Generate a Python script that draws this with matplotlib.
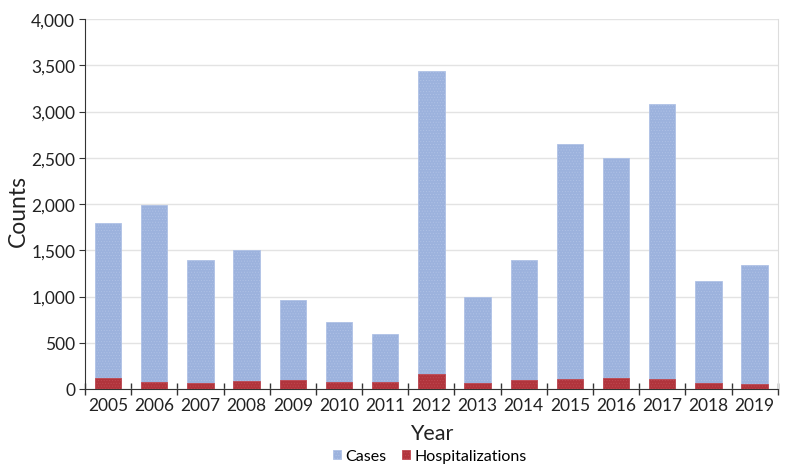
import numpy as np
import matplotlib.pyplot as plt
from matplotlib.ticker import FuncFormatter, FixedLocator

plt.rcParams['font.family'] = ['Lato', 'DejaVu Sans']
plt.rcParams['hatch.linewidth'] = 0.4

years = ["2005", "2006", "2007", "2008", "2009", "2010", "2011", "2012",
         "2013", "2014", "2015", "2016", "2017", "2018", "2019"]
cases = [1790, 1990, 1400, 1505, 960, 720, 600, 3440,
         995, 1400, 2650, 2500, 3080, 1170, 1340]
hosp = [120, 80, 70, 90, 95, 80, 80, 160,
        65, 100, 110, 120, 110, 60, 55]

CASE_C = "#9cb2dd"
HOSP_C = "#b1343c"

fig = plt.figure(figsize=(7.92, 4.77), dpi=100)
ax = fig.add_axes([0.1073, 0.1824, 0.982 - 0.1073, 0.958 - 0.1824])

x = np.arange(len(years))
w = 0.57
ax.bar(x, cases, width=w, color=CASE_C, edgecolor="#b0c2e6", linewidth=0.6,
       hatch="......", label="Cases", zorder=2)
ax.bar(x, hosp, width=w, color=HOSP_C, edgecolor="#c04a52", linewidth=0.6,
       hatch="......", label="Hospitalizations", zorder=3)

ax.set_xlim(-0.5, len(years) - 0.5)
ax.set_ylim(0, 4000)
ax.set_yticks(np.arange(0, 4001, 500))
ax.yaxis.set_major_formatter(FuncFormatter(lambda v, p: f"{int(v):,}"))
ax.grid(axis="y", color="#e3e3e3", linewidth=1, zorder=0)
ax.set_axisbelow(True)

ax.set_xticks(x)
ax.set_xticklabels(years)
ax.xaxis.set_minor_locator(FixedLocator(np.arange(-0.5, len(years), 1.0)))
ax.tick_params(axis="x", which="major", length=0, labelsize=12.5, pad=6, colors="#222222")
ax.tick_params(axis="x", which="minor", length=8, direction="inout", width=1, color="#333333")
ax.tick_params(axis="y", length=4, labelsize=12.5, colors="#222222", pad=3, color="#333333")

ax.spines["top"].set_visible(False)
ax.spines["right"].set_color("#dddddd")
ax.spines["left"].set_color("#333333")
ax.spines["bottom"].set_color("#333333")

ax.set_xlabel("Year", fontsize=15.5, labelpad=7, color="#222222")
ax.set_ylabel("Counts", fontsize=16.5, color="#222222")
ax.yaxis.set_label_coords(-0.081, 0.484)

fig.legend(loc="center", bbox_to_anchor=(0.543, 0.042), ncol=2, frameon=False,
           fontsize=11.5, handlelength=0.45, handleheight=0.45, handletextpad=0.3,
           columnspacing=1.0)

fig.savefig("out.png", dpi=100)
